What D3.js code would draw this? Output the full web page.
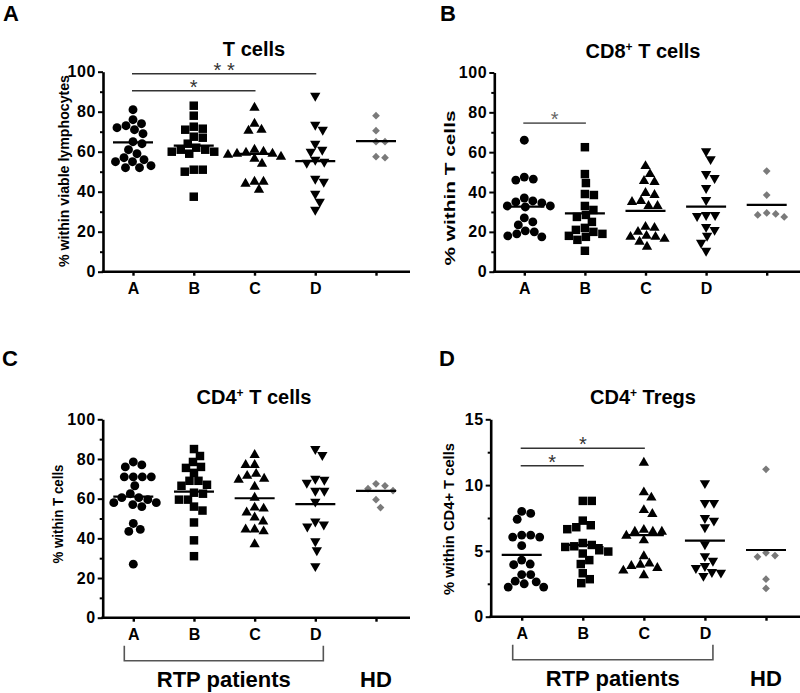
<!DOCTYPE html>
<html>
<head>
<meta charset="utf-8">
<script src="https://cdn.jsdelivr.net/npm/d3@7"></script>
<style>
  body { margin: 0; background: #fff; }
  text { font-family: "Liberation Sans", Arial, sans-serif; }
</style>
</head>
<body>
<svg id="fig" width="800" height="693"></svg>
<script>
// groups on the x axis; the healthy donor column has no tick label
var groups     = ["A", "B", "C", "D", "HD"];
var tickLabels = ["A", "B", "C", "D", ""];

// values, one list per group (A, B, C, D, HD)
var tCellsValues = [
  [81, 76, 74, 73, 72, 71, 69, 65, 64, 61, 59, 57, 56, 55, 55, 53, 52, 52],
  [83, 78, 72.5, 71.5, 71, 67.5, 67, 64, 62, 61, 60, 60, 59, 61, 51, 50, 51, 37.5],
  [82, 74, 71, 70.5, 61, 60, 59.5, 59, 59, 58.5, 57.5, 56.5, 54, 45, 45, 44, 41],
  [88, 73.5, 71, 64, 61, 60, 56, 55, 54.5, 46.5, 45, 39, 35, 31],
  [78, 70.5, 65, 65, 57, 57.5]
];
var tCellsMeans = [64.7, 63, 58.9, 55.3, 65.3];

var cd8Values = [
  [66, 47.5, 46.5, 46, 37, 35.5, 35, 34.5, 33, 33, 32.5, 27, 25, 23.5, 20.5, 20, 19, 18, 17.5],
  [62.5, 49, 44.5, 39, 38.5, 33, 31, 28.5, 27.5, 25, 22, 21, 20, 19, 18, 17.5, 16, 10.5],
  [53, 49, 45.5, 45, 39.5, 38.5, 35.5, 35, 33, 33, 22.5, 22, 20, 18, 17.5, 17.5, 16.5, 15, 12.5],
  [60.5, 56.5, 49, 47, 42, 36, 28.5, 28.5, 28, 22.5, 21, 18, 14.5, 10.5],
  [50.5, 38.5, 29.5, 29, 28.5, 27.5]
];
var cd8Means = [32.7, 29.3, 30.5, 32.7, 33.5];

var cd4Values = [
  [78.5, 77, 76, 71, 71, 71, 71, 66.5, 62.5, 60.5, 60.5, 59.5, 58, 58, 57, 56, 47.5, 44.5, 43.5, 27],
  [85, 81.5, 78.5, 76, 75.5, 73, 69, 67, 69, 66.5, 63, 62.5, 59.5, 59.5, 56, 54, 48, 39, 31],
  [82, 77, 77, 72.5, 71.5, 70, 69.5, 66, 60.5, 55.5, 55, 53, 50.5, 48.5, 44.5, 44.5, 43.5, 37],
  [85, 82, 70, 69.5, 68, 64, 64, 58.5, 48.5, 47, 46, 38.5, 34, 26],
  [67.5, 66.5, 65, 64, 59.5, 55.5]
];
var cd4Means = [61, 63.5, 60.2, 57.2, 63.9];

var tregValues = [
  [8, 7.4, 7.85, 6.2, 6.05, 6.05, 6.2, 5.4, 4.0, 4.3, 3.95, 3.2, 3.2, 2.7, 2.5, 2.25, 2.25, 2.65],
  [8.8, 8.8, 7.3, 6.8, 6.65, 6.95, 5.35, 5.45, 5.05, 5.3, 5.6, 4.95, 4.8, 4.3, 4.0, 3.3, 2.85, 2.55],
  [11.7, 9.45, 9.05, 8.1, 7.8, 6.45, 6.45, 6.6, 6.45, 6.15, 5.8, 4.6, 3.95, 3.7, 4.05, 3.85, 3.5, 3.15],
  [10.15, 8.65, 8.65, 7.3, 7.5, 6.8, 5.5, 4.6, 4.25, 3.85, 3.4, 3.1, 3.35, 3.7],
  [11.2, 4.65, 4.55, 4.85, 2.85, 2.15]
];
var tregMeans = [4.7, 5.45, 6.2, 5.78, 5.07];

// y ticks
var pctTicks   = [0, 20, 40, 60, 80, 100];
var pctMinor   = [10, 30, 50, 70, 90];
var tregTicks  = [0, 5, 10, 15];
var tregMinor  = [2.5, 7.5, 12.5];

// significance bars: [from, to, level, label]
var tCellsSig = [["A", "D", 99, "* *"], ["A", "C", 90.5, "*"]];
var cd8Sig    = [["A", "B", 74.6, "*"]];
var tregSig   = [["A", "C", 12.8, "*"], ["A", "B", 11.47, "*"]];

var svg = d3.select("#fig");

// simple dodge: put each point as close to the column centre as it can go
function swarm(values, y, cx, diam) {
  var pts = values.map(function(v) { return { v: v, y: y(v) }; })
                  .sort(function(a, b) { return a.y - b.y; });
  var placed = [];
  pts.forEach(function(p) {
    for (var k = 0; k < 400; k++) {
      var off = (k % 2 ? 1 : -1) * Math.ceil(k / 2) * 0.5;
      var x = cx + off;
      var ok = placed.every(function(q) {
        return (q.x - x) * (q.x - x) + (q.y - p.y) * (q.y - p.y) >= diam * diam;
      });
      if (ok) { p.x = x; break; }
    }
    placed.push(p);
  });
  return placed;
}

var symbols = [
  { type: d3.symbolCircle,   size: 62, rot: 0,   fill: "#000" },
  { type: d3.symbolSquare,   size: 72, rot: 0,   fill: "#000" },
  { type: d3.symbolTriangle, size: 46, rot: 0,   fill: "#000" },
  { type: d3.symbolTriangle, size: 46, rot: 180, fill: "#000" },
  { type: d3.symbolSquare,   size: 30, rot: 45,  fill: "#7a7a7a" }
];

var FONT = "'Liberation Sans', Arial, sans-serif";

function drawPanel(p) {
  var g = svg.append("g");
  var x = d3.scalePoint().domain(groups).range([p.x0, p.x1]);
  var y = d3.scaleLinear().domain([0, p.max]).range([p.yBottom, p.yTop]);

  // panel letter
  g.append("text")
    .attr("x", p.letterX).attr("y", p.letterY)
    .attr("font-size", 22).attr("font-weight", "bold")
    .text(p.letter);

  // title with optional superscript
  var t = g.append("text")
    .attr("x", p.titleX).attr("y", p.titleY)
    .attr("text-anchor", "middle")
    .attr("font-size", 20).attr("font-weight", "bold");
  t.append("tspan").text(p.title[0]);
  if (p.title[1]) {
    t.append("tspan").attr("dy", -7).attr("font-size", 12).text(p.title[1]);
    t.append("tspan").attr("dy", 7).text(p.title[2]);
  }

  // y axis label
  g.append("text")
    .attr("transform", "translate(" + p.labelX + "," + p.labelY + ") rotate(-90)")
    .attr("text-anchor", "middle")
    .attr("textLength", p.labelLen)
    .attr("lengthAdjust", "spacingAndGlyphs")
    .attr("font-size", 14).attr("font-weight", "bold")
    .text(p.label);

  // y axis, major and minor ticks
  var yAxis = g.append("g")
    .attr("transform", "translate(" + p.axisX + ",0)")
    .call(d3.axisLeft(y).tickValues(p.ticks).tickSize(5).tickSizeOuter(0).tickPadding(2));
  yAxis.attr("font-size", 16).attr("font-family", FONT).attr("font-weight", "bold");
  yAxis.select(".domain").attr("stroke-width", 2.6);
  yAxis.selectAll(".tick line").attr("stroke-width", 2);
  yAxis.selectAll("text").attr("letter-spacing", 0.6);

  var yMinor = g.append("g")
    .attr("transform", "translate(" + p.axisX + ",0)")
    .call(d3.axisLeft(y).tickValues(p.minor).tickSize(3).tickFormat(""));
  yMinor.select(".domain").remove();
  yMinor.selectAll(".tick line").attr("stroke-width", 2);

  // x axis
  var xAxis = g.append("g")
    .attr("transform", "translate(0," + p.yBottom + ")")
    .call(d3.axisBottom(x).tickSize(4).tickPadding(7)
      .tickFormat(function(d, i) { return tickLabels[i]; }));
  xAxis.attr("font-size", 16).attr("font-family", FONT).attr("font-weight", "bold");
  xAxis.select(".domain").remove();
  xAxis.selectAll(".tick line").attr("stroke-width", 2.4);
  g.append("line")
    .attr("x1", p.axisX - 1.3).attr("x2", p.xEnd)
    .attr("y1", p.yBottom).attr("y2", p.yBottom)
    .attr("stroke", "#000").attr("stroke-width", 2.6);

  // points
  p.values.forEach(function(vals, gi) {
    var s = symbols[gi];
    var sym = d3.symbol().type(s.type).size(s.size);
    var pts = swarm(vals, y, x(groups[gi]), 9);
    g.selectAll(null).data(pts).enter().append("path")
      .attr("d", sym)
      .attr("transform", function(d) {
        return "translate(" + d.x + "," + d.y + ") rotate(" + s.rot + ")";
      })
      .attr("fill", s.fill);
  });

  // mean lines
  g.selectAll(null).data(p.means).enter().append("line")
    .attr("x1", function(d, i) { return x(groups[i]) - 20; })
    .attr("x2", function(d, i) { return x(groups[i]) + 20; })
    .attr("y1", function(d) { return y(d); })
    .attr("y2", function(d) { return y(d); })
    .attr("stroke", "#000").attr("stroke-width", 2.2);

  // significance bars
  (p.sig || []).forEach(function(s) {
    var xa = x(s[0]) - 1, xb = x(s[1]) + 1, ys = y(s[2]);
    g.append("line")
      .attr("x1", xa).attr("x2", xb).attr("y1", ys).attr("y2", ys)
      .attr("stroke", p.sigColor).attr("stroke-width", 1.6);
    g.append("text")
      .attr("x", (xa + xb) / 2).attr("y", ys + 3)
      .attr("text-anchor", "middle")
      .attr("font-size", 20).attr("fill", p.sigColor)
      .text(s[3]);
  });

  // bracket under patient groups
  if (p.bracket) {
    var bx0 = x("A") - 9, bx1 = x("D") + 8;
    g.append("path")
      .attr("d", "M" + bx0 + "," + (p.yBottom + 28) + "V" + (p.yBottom + 43) +
                 "H" + bx1 + "V" + (p.yBottom + 28))
      .attr("fill", "none").attr("stroke", "#555").attr("stroke-width", 1.6);
    g.append("text")
      .attr("x", (bx0 + bx1) / 2).attr("y", p.yBottom + 69)
      .attr("text-anchor", "middle")
      .attr("font-size", 22).attr("font-weight", "bold")
      .text("RTP patients");
    g.append("text")
      .attr("x", x("HD")).attr("y", p.yBottom + 69)
      .attr("text-anchor", "middle")
      .attr("font-size", 22).attr("font-weight", "bold")
      .text("HD");
  }
}

drawPanel({
  letter: "A", letterX: 3, letterY: 21,
  title: ["T cells"], titleX: 254, titleY: 56,
  label: "% within viable lymphocytes", labelX: 69, labelY: 171, labelLen: 192,
  axisX: 103, x0: 133, x1: 376, xEnd: 410, yTop: 71.7, yBottom: 271.7,
  max: 100, ticks: pctTicks, minor: pctMinor,
  values: tCellsValues, means: tCellsMeans, sig: tCellsSig, sigColor: "#333"
});

drawPanel({
  letter: "B", letterX: 440, letterY: 21,
  title: ["CD8", "+", " T cells"], titleX: 643, titleY: 58,
  label: "% within T cells", labelX: 455, labelY: 188, labelLen: 155,
  axisX: 494.3, x0: 524.3, x1: 766.7, xEnd: 800, yTop: 72.5, yBottom: 271.7,
  max: 100, ticks: pctTicks, minor: pctMinor,
  values: cd8Values, means: cd8Means, sig: cd8Sig, sigColor: "#666"
});

drawPanel({
  letter: "C", letterX: 2, letterY: 366,
  title: ["CD4", "+", " T cells"], titleX: 254, titleY: 404,
  label: "% within T cells", labelX: 63, labelY: 514, labelLen: 99,
  axisX: 102.7, x0: 133.3, x1: 376, xEnd: 410, yTop: 419.3, yBottom: 617.7,
  max: 100, ticks: pctTicks, minor: pctMinor,
  values: cd4Values, means: cd4Means, bracket: true
});

drawPanel({
  letter: "D", letterX: 439, letterY: 366,
  title: ["CD4", "+", " Tregs"], titleX: 643, titleY: 404,
  label: "% within  CD4+ T cells", labelX: 454, labelY: 519, labelLen: 152,
  axisX: 490.7, x0: 521.7, x1: 766, xEnd: 800, yTop: 419.3, yBottom: 616.7,
  max: 15, ticks: tregTicks, minor: tregMinor,
  values: tregValues, means: tregMeans, sig: tregSig, sigColor: "#333", bracket: true
});
</script>
</body>
</html>
